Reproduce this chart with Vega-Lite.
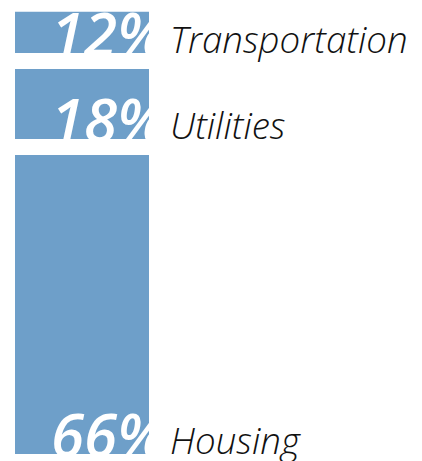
{
  "$schema": "https://vega.github.io/schema/vega-lite/v6.json",
  "width": 422,
  "height": 462,
  "autosize": {"type": "none"},
  "padding": 0,
  "background": "white",
  "config": {"view": {"stroke": null}},
  "data": {
    "values": [
      {"category": "Housing", "share": 0.66, "order": 1},
      {"category": "Utilities", "share": 0.18, "order": 2},
      {"category": "Transportation", "share": 0.12, "order": 3}
    ]
  },
  "transform": [
    {"stack": "share", "groupby": [], "sort": [{"field": "order", "order": "ascending"}], "as": ["start", "end"]}
  ],
  "encoding": {
    "x": {"datum": "expenses", "type": "nominal", "scale": {"type": "band", "range": [7, 157], "paddingInner": 0, "paddingOuter": 0}, "axis": null},
    "y": {"field": "start", "type": "quantitative", "scale": {"domain": [0, 0.968], "nice": false, "zero": false}, "axis": null}
  },
  "layer": [
    {
      "mark": {"type": "bar", "color": "#6e9fc9", "stroke": "white", "strokeWidth": 16, "strokeJoin": "miter"},
      "encoding": {
        "y2": {"field": "end"}
      }
    },
    {
      "mark": {"type": "text", "align": "left", "baseline": "alphabetic", "font": "Open Sans", "fontStyle": "italic", "fontWeight": 600, "fontSize": 60, "color": "white", "dx": -31, "dy": -5},
      "encoding": {
        "text": {"field": "share", "type": "quantitative", "format": ".0%"}
      }
    },
    {
      "mark": {"type": "text", "align": "left", "baseline": "alphabetic", "font": "Open Sans", "fontStyle": "italic", "fontWeight": 300, "fontSize": 36.7, "color": "#111111", "dx": 88, "dy": -8},
      "encoding": {
        "text": {"field": "category", "type": "nominal"}
      }
    }
  ]
}
